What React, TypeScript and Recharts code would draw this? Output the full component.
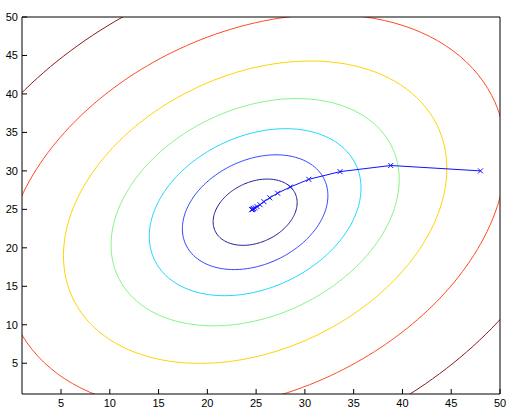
import { LineChart, Line, XAxis, YAxis } from "recharts";

// contour levels of the cost bowl, innermost first
const contourLevels = [17, 51, 108, 200, 354, 606, 1027];
const contourColors = ["#1c1c96", "#3048ff", "#1ed8ff", "#86f586", "#ffd400", "#ff4a22", "#8c1c1c"];
const bowlCenter = [24.9, 24.63];
const crossTerm = -0.577;

// gradient descent iterates
const pathX = [48.0, 38.8, 33.6, 30.4, 28.5, 27.2, 26.4, 25.8, 25.4, 25.1, 24.9, 24.75, 24.65, 24.6, 24.55];
const pathY = [30.0, 30.7, 29.9, 28.9, 27.9, 27.1, 26.5, 26.0, 25.6, 25.35, 25.2, 25.1, 25.03, 24.98, 24.95];

const ticks = [5, 10, 15, 20, 25, 30, 35, 40, 45, 50];

const contourPoints = (level: number) => {
  const pts: { x: number; y: number }[] = [];
  for (let i = 0; i <= 180; i++) {
    const t = (i / 180) * 2 * Math.PI;
    const c = Math.cos(t);
    const s = Math.sin(t);
    const r = Math.sqrt(level / (1 + crossTerm * c * s));
    pts.push({ x: bowlCenter[0] + r * c, y: bowlCenter[1] + r * s });
  }
  return pts;
};

const pathData = pathX.map((x, i) => ({ x, y: pathY[i] }));

const tickStyle = { fill: "#000", fontSize: 11, fontFamily: "'Liberation Sans', Arial, sans-serif" };

const XMark = (props: any) => {
  const { cx, cy, index } = props;
  const d = 2.5;
  return (
    <g key={`m-${index}`}>
      <line x1={cx - d} y1={cy - d} x2={cx + d} y2={cy + d} stroke="#1010ff" strokeWidth={1} />
      <line x1={cx - d} y1={cy + d} x2={cx + d} y2={cy - d} stroke="#1010ff" strokeWidth={1} />
    </g>
  );
};

export default function App() {
  return (
    <div style={{ position: "absolute", left: 0, top: 0, background: "#fff" }}>
      <LineChart width={528} height={418} margin={{ top: 16, right: 27, bottom: 0, left: 0 }}>
        <XAxis
          type="number"
          dataKey="x"
          domain={[1, 50]}
          ticks={ticks}
          allowDataOverflow
          height={24}
          tickSize={-5}
          tickMargin={10}
          stroke="#000"
          tick={tickStyle}
        />
        <XAxis
          xAxisId="top"
          orientation="top"
          type="number"
          dataKey="x"
          domain={[1, 50]}
          ticks={ticks}
          allowDataOverflow
          height={1}
          tickSize={-5}
          stroke="#000"
          tick={false}
        />
        <YAxis
          type="number"
          dataKey="y"
          domain={[1, 50]}
          ticks={ticks}
          allowDataOverflow
          width={22}
          tickSize={-5}
          tickMargin={9}
          stroke="#000"
          tick={tickStyle}
        />
        <YAxis
          yAxisId="right"
          orientation="right"
          type="number"
          dataKey="y"
          domain={[1, 50]}
          ticks={ticks}
          allowDataOverflow
          width={1}
          tickSize={-5}
          stroke="#000"
          tick={false}
        />
        {contourLevels.map((level, i) => (
          <Line
            key={`c-${i}`}
            data={contourPoints(level)}
            dataKey="y"
            type="linear"
            stroke={contourColors[i]}
            strokeWidth={1}
            dot={false}
            activeDot={false}
            isAnimationActive={false}
          />
        ))}
        <Line
          data={pathData}
          dataKey="y"
          type="linear"
          stroke="#1010ff"
          strokeWidth={1}
          dot={XMark}
          activeDot={false}
          isAnimationActive={false}
        />
      </LineChart>
    </div>
  );
}
